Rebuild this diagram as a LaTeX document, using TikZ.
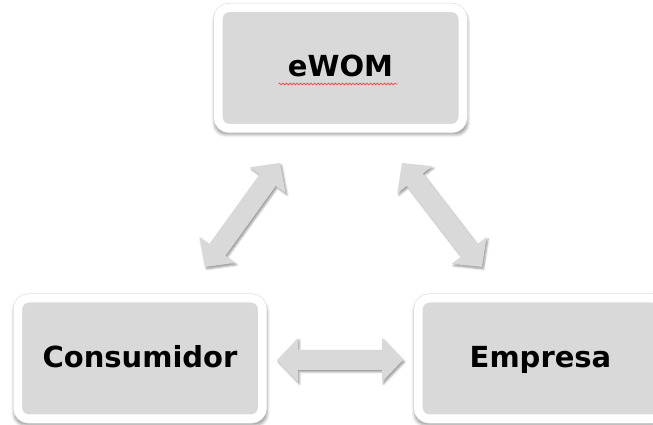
\documentclass[tikz,border=0pt]{standalone}
\usepackage{fontspec}
\setmainfont{DejaVu Sans}
\usetikzlibrary{calc,shadows.blur,decorations.pathmorphing}
\definecolor{boxgray}{HTML}{D9D9D9}
\definecolor{arrowgray}{HTML}{D9D9D9}
\newcommand\blockarrowdraw[2]{%
  \coordinate (#1h) at ($(#1)!21pt!(#2)$);
  \coordinate (#2h) at ($(#2)!21pt!(#1)$);
  \path[blockarrow] (#1)
    -- ($(#1h)!22pt!90:(#2)$) -- ($(#1h)!10pt!90:(#2)$)
    -- ($(#2h)!10pt!-90:(#1)$) -- ($(#2h)!22pt!-90:(#1)$)
    -- (#2)
    -- ($(#2h)!22pt!90:(#1)$) -- ($(#2h)!10pt!90:(#1)$)
    -- ($(#1h)!10pt!-90:(#2)$) -- ($(#1h)!22pt!-90:(#2)$)
    -- cycle;}
\begin{document}
\begin{tikzpicture}[x=1pt,y=1pt,
  box/.style={rectangle, rounded corners=11pt, fill=boxgray,
    draw=black!14, line width=0.6pt, double=white, double distance=8.5pt,
    minimum width=244.5pt, minimum height=120.5pt, inner sep=0pt,
    font=\fontsize{29}{34}\selectfont\bfseries, text height=22pt, text depth=4pt,
    blur shadow={shadow xshift=0.5pt, shadow yshift=-4pt, shadow scale=1.035,
      shadow blur radius=3pt, shadow opacity=40}},
  blockarrow/.style={fill=arrowgray,
    blur shadow={shadow xshift=1.5pt, shadow yshift=-2pt, shadow blur radius=2pt, shadow opacity=40}},
  squiggle/.style={red!75, line width=0.7pt, decorate,
    decoration={snake, segment length=3.5pt, amplitude=0.9pt}}
]
\useasboundingbox (0,0) rectangle (653,425);
\node[box] (ewom) at (340.5,357) {eWOM};
\node[box] (cons) at (140,66.5) {Consumidor};
\node[box] (emp) at (540.5,66.5) {Empresa};
\draw[squiggle] ($(ewom.base)+(-62pt,-7pt)$) -- ($(ewom.base)+(57pt,-7pt)$);
\coordinate (la) at (205,158);
\coordinate (lb) at (280,262);
\coordinate (ra) at (402,262);
\coordinate (rb) at (482,158);
\coordinate (ha) at (277,65);
\coordinate (hb) at (403,65);
\blockarrowdraw{la}{lb}
\blockarrowdraw{ra}{rb}
\blockarrowdraw{ha}{hb}
\end{tikzpicture}
\end{document}
